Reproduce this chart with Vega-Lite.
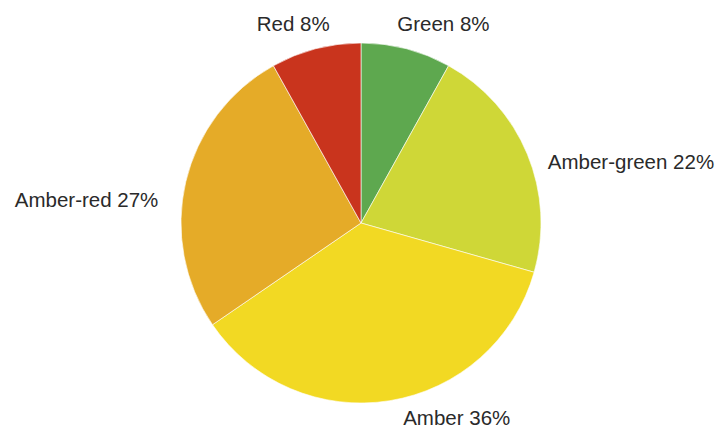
{
  "$schema": "https://vega.github.io/schema/vega-lite/v6.json",
  "width": 722,
  "height": 446,
  "padding": 0,
  "autosize": "none",
  "background": "white",
  "view": {"stroke": null},
  "data": {"values": [
    {"status": "Green", "count": 11, "order": 1, "label": "Green 8%"},
    {"status": "Amber-green", "count": 29, "order": 2, "label": "Amber-green 22%"},
    {"status": "Amber", "count": 49, "order": 3, "label": "Amber 36%"},
    {"status": "Amber-red", "count": 36, "order": 4, "label": "Amber-red 27%"},
    {"status": "Red", "count": 11, "order": 5, "label": "Red 8%"}
  ]},
  "encoding": {
    "theta": {"field": "count", "type": "quantitative", "stack": true},
    "order": {"field": "order", "type": "quantitative"}
  },
  "layer": [
    {
      "mark": {"type": "arc", "outerRadius": 180, "stroke": "#ffffff", "strokeWidth": 0.6},
      "encoding": {
        "color": {"field": "status", "type": "nominal", "legend": null,
          "scale": {"domain": ["Green", "Amber-green", "Amber", "Amber-red", "Red"],
                    "range": ["#5ea84f", "#cfd737", "#f2d923", "#e5ab28", "#c9341d"]}}
      }
    },
    {
      "mark": {"type": "text", "radius": 200, "align": "left", "baseline": "middle", "dx": -14, "dy": -4, "font": "Liberation Sans", "fontSize": 20.5, "color": "#2a2a2a"},
      "encoding": {"text": {"condition": {"test": "datum.status === 'Green'", "field": "label"}, "value": ""}}
    },
    {
      "mark": {"type": "text", "radius": 200, "align": "left", "baseline": "middle", "dx": 2, "dy": 17, "font": "Liberation Sans", "fontSize": 20.5, "color": "#2a2a2a"},
      "encoding": {"text": {"condition": {"test": "datum.status === 'Amber-green'", "field": "label"}, "value": ""}}
    },
    {
      "mark": {"type": "text", "radius": 200, "align": "left", "baseline": "middle", "dx": 10, "dy": -1, "font": "Liberation Sans", "fontSize": 20.5, "color": "#2a2a2a"},
      "encoding": {"text": {"condition": {"test": "datum.status === 'Amber'", "field": "label"}, "value": ""}}
    },
    {
      "mark": {"type": "text", "radius": 200, "align": "right", "baseline": "middle", "dx": -8, "dy": 24, "font": "Liberation Sans", "fontSize": 20.5, "color": "#2a2a2a"},
      "encoding": {"text": {"condition": {"test": "datum.status === 'Amber-red'", "field": "label"}, "value": ""}}
    },
    {
      "mark": {"type": "text", "radius": 200, "align": "right", "baseline": "middle", "dx": 19, "dy": -4, "font": "Liberation Sans", "fontSize": 20.5, "color": "#2a2a2a"},
      "encoding": {"text": {"condition": {"test": "datum.status === 'Red'", "field": "label"}, "value": ""}}
    }
  ]
}
